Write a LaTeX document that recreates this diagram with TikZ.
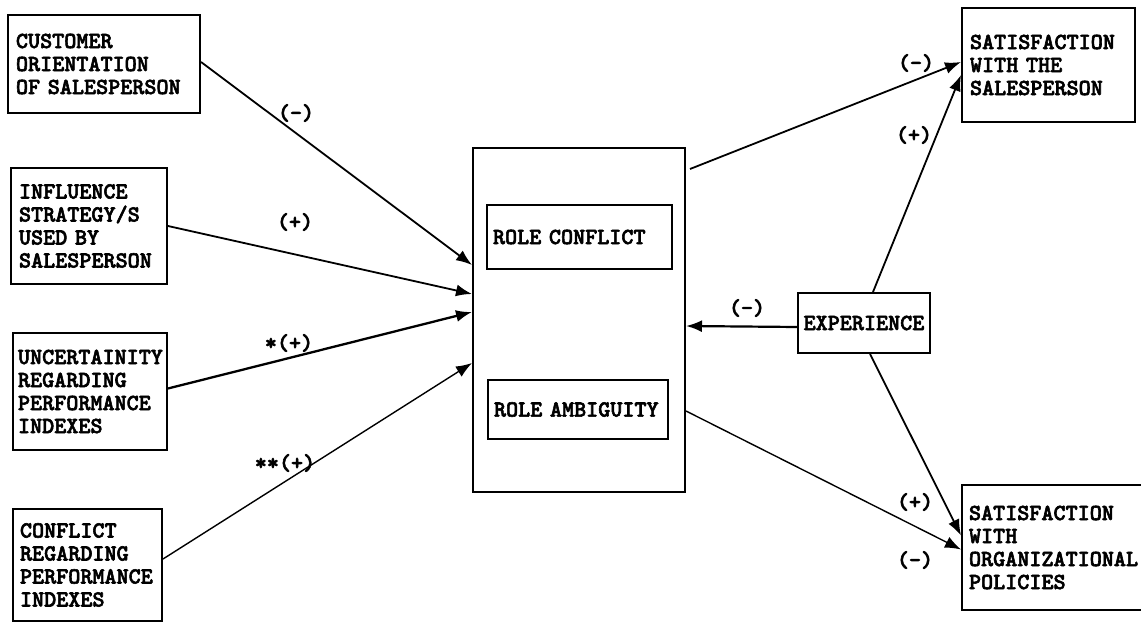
\documentclass[tikz,border=0pt]{standalone}
\usepackage{fontspec}
\newfontfamily\typewriter{lmmonolt10-bold}[Extension=.otf, FakeBold=2.5]
\usetikzlibrary{arrows.meta,calc}
\tikzset{
  txt/.style={font=\typewriter\fontsize{23}{23}\selectfont},
  box/.style={draw, line width=2pt, rectangle, inner xsep=8pt, inner ysep=0pt,
              align=left, txt},
  rolebox/.style={box, inner xsep=6pt},
  sign/.style={txt, inner sep=0pt},
  link/.style={line width=1.8pt, -{Latex[length=16pt,width=12pt]}}
}
\begin{document}
\begin{tikzpicture}[x=1pt,y=-1pt]
\useasboundingbox (0,0) rectangle (1141,623);

% antecedents
\node[box, minimum width=192pt, minimum height=98pt, text width=176pt] (co) at (104,64)
  {CUSTOMER\\ORIENTATION\\OF SALESPERSON};
\node[box, minimum width=156pt, minimum height=116pt, text width=140pt] (inf) at (89,226)
  {INFLUENCE\\STRATEGY/S\\USED BY\\SALESPERSON};
\node[box, minimum width=154pt, minimum height=117pt, text width=144pt, inner xsep=5pt] (unc) at (90,391.5)
  {UNCERTAINITY\\REGARDING\\PERFORMANCE\\INDEXES};
\node[box, minimum width=149pt, minimum height=112pt, text width=135pt, inner xsep=7pt] (con) at (87.5,565)
  {CONFLICT\\REGARDING\\PERFORMANCE\\INDEXES};

% role stress block
\node[draw, line width=2pt, minimum width=212pt, minimum height=344pt, inner sep=0pt] (mid) at (579,320) {};
\node[rolebox, minimum width=185pt, minimum height=64pt, text width=173pt] (rc) at (579.5,237) {ROLE CONFLICT};
\node[rolebox, minimum width=180pt, minimum height=59pt, text width=168pt] (ra) at (578,409.5) {ROLE AMBIGUITY};

% moderator and outcomes
\node[box, minimum width=132pt, minimum height=60pt, inner xsep=3pt, align=center] (exp) at (864,323) {EXPERIENCE};
\node[box, minimum width=173pt, minimum height=114pt, text width=157pt] (ss) at (1048.5,65)
  {SATISFACTION\\WITH THE\\SALESPERSON};
\node[box, minimum width=183pt, minimum height=125pt, text width=169pt, inner xsep=7pt] (so) at (1053.5,547.5)
  {SATISFACTION\\WITH\\ORGANIZATIONAL\\POLICIES};

% paths into the role stress block
\draw[link] ($(co.east)+(0,-2)$) -- ($(mid.north west)+(0,118)$);
\draw[link] (inf.east) -- ($(mid.north west)+(0,147)$);
\draw[link, line width=2.3pt] ($(unc.east)+(0,-3)$) -- ($(mid.north west)+(0,165)$);
\draw[link, line width=1.4pt] ($(con.east)+(0,-6)$) -- ($(mid.north west)+(0,216)$);
\draw[link, line width=2.2pt] ($(exp.west)+(0,4)$) -- ($(mid.north east)+(0,179)$);

% paths to the outcomes
\draw[link] ($(mid.north east)+(4,22)$) -- ($(ss.west)+(0,-3)$);
\draw[link] ($(exp.north)+(9,0)$) -- ($(ss.west)+(0,10)$);
\draw[link] ($(exp.south)+(6,0)$) -- ($(so.west)+(0,-12)$);
\draw[link, line width=1.4pt] ($(mid.north east)+(0,264)$) -- ($(so.west)+(0,2)$);

% signs
\node[sign] (s1) at (296,113) {(-)};
\node[sign] (s2) at (295,222) {(+)};
\node[sign] (s3) at (289,343) {*(+)};
\node[sign] (s4) at (285,463) {**(+)};
\node[sign] (s5) at (916,63) {(-)};
\node[sign] (s6) at (914,135) {(+)};
\node[sign] (s7) at (747,308) {(-)};
\node[sign] (s8) at (915,502) {(+)};
\node[sign] (s9) at (915,560) {(-)};
\end{tikzpicture}
\end{document}
